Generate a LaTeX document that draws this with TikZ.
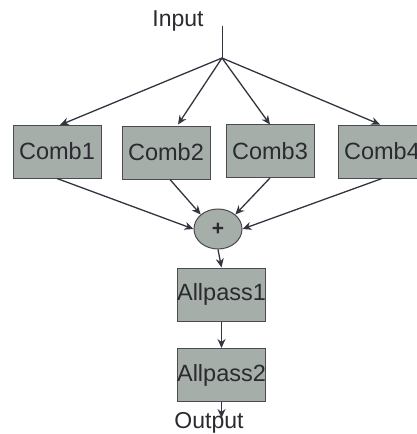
\documentclass[tikz,border=0pt]{standalone}
\usepackage{fontspec}
\setmainfont{Liberation Sans}
\usetikzlibrary{shapes.geometric,arrows.meta}
\definecolor{boxfill}{HTML}{A6AEA9}
\definecolor{boxline}{HTML}{4A4A50}
\definecolor{wire}{HTML}{33343F}
\definecolor{txt}{HTML}{2A2A30}
\begin{document}
\begin{tikzpicture}[x=1pt,y=-1pt,
  blk/.style={draw=boxline,fill=boxfill,line width=1pt,minimum width=88pt,minimum height=53pt,inner sep=0pt,font=\fontsize{23.5}{26}\selectfont,text=txt},
  sum/.style={ellipse,draw=boxline,fill=boxfill,line width=1pt,minimum width=48pt,minimum height=40pt,inner sep=0pt,font=\fontsize{21}{22}\selectfont\bfseries,text=txt},
  lbl/.style={font=\fontsize{23}{26}\selectfont,text=txt,inner sep=0pt},
  conn/.style={draw=wire,line width=1.3pt,-{Stealth[length=9pt,width=8pt]}},
  plain/.style={draw=wire,line width=1pt}]
\useasboundingbox (0,0) rectangle (416,434);
\node[lbl] (in) at (178,21) {Input};
\coordinate (top) at (222,26);
\coordinate (split) at (222,58);
\node[blk] (c1) at (57,151.5) {Comb1};
\node[blk] (c2) at (166,152.5) {Comb2};
\node[blk] (c3) at (270,151) {Comb3};
\node[blk] (c4) at (382,151.5) {Comb4};
\node[sum] (s) at (218,229) {+};
\node[blk] (a1) at (221.5,294.5) {Allpass1};
\node[blk] (a2) at (221.5,375) {Allpass2};
\node[lbl] (out) at (209,423) {Output};
\draw[plain] (top) -- (split);
\draw[conn] (split) -- (60,125);
\draw[conn] (split) -- (178,124.5);
\draw[conn] (split) -- (270,124.5);
\draw[conn] (split) -- (380,124.5);
\draw[conn] (c1.south) -- (s.west);
\draw[conn] ([xshift=4pt]c2.south) -- (s.north west);
\draw[conn] (c3.south) -- (s.north east);
\draw[conn] (c4.south) -- (s.east);
\draw[conn] (s.south) -- (a1.north);
\draw[conn] (a1.south) -- (a2.north);
\draw[conn] (a2.south) -- ([yshift=-16pt]a2.south);
\end{tikzpicture}
\end{document}
